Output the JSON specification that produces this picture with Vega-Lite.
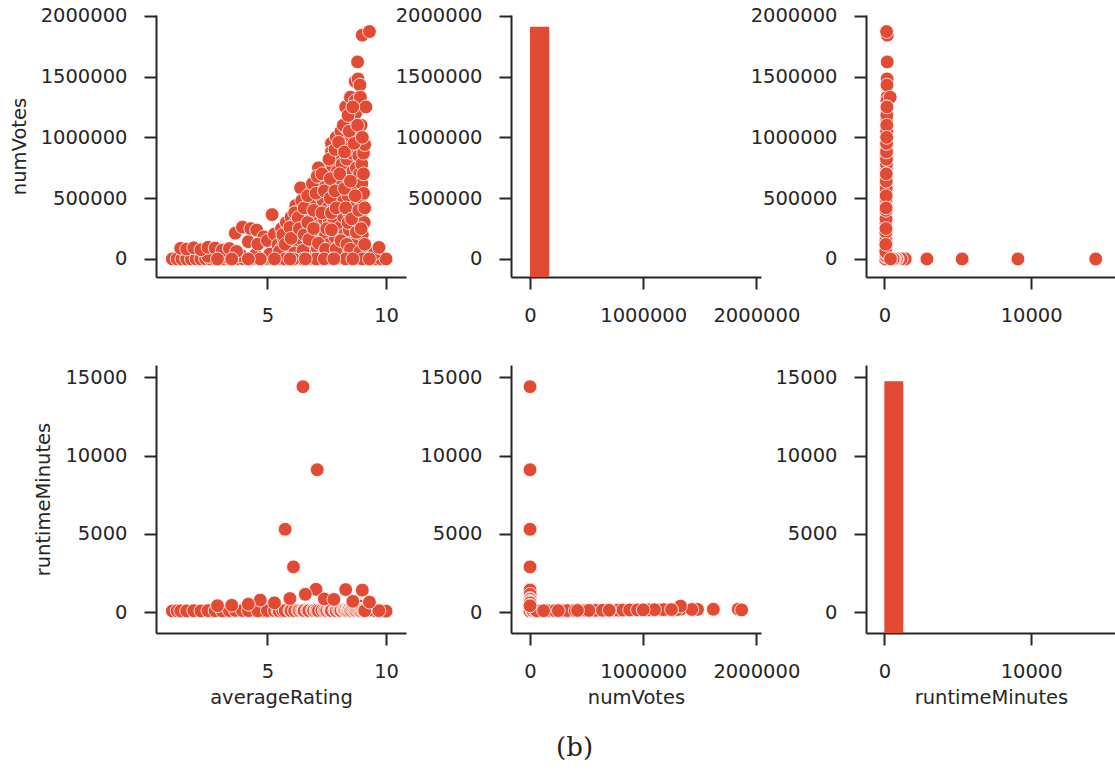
{
  "$schema": "https://vega.github.io/schema/vega-lite/v6.json",
  "padding": {"left": 9, "top": 5, "right": 5, "bottom": 5},
  "background": "white",
  "bounds": "flush",
  "columns": 3,
  "spacing": {"row": 88, "column": 105},
  "resolve": {"scale": {"x": "independent", "y": "independent"}},
  "title": {"text": "(b)", "orient": "bottom", "anchor": "middle", "font": "DejaVu Serif", "fontSize": 26, "fontWeight": "normal", "color": "#222222", "offset": 28, "dx": 12},
  "config": {
    "view": {"stroke": null},
    "font": "DejaVu Sans",
    "axis": {
      "grid": false,
      "domainColor": "#262626", "domainWidth": 2,
      "tickColor": "#262626", "tickWidth": 2, "tickSize": 12,
      "labelFont": "DejaVu Sans", "labelFontSize": 19.5, "labelColor": "#262626", "labelPadding": 17, "labelFlush": false,
      "titleFont": "DejaVu Sans", "titleFontSize": 19.5, "titleFontWeight": "normal", "titleColor": "#262626"
    },
    "axisX": {"titlePadding": 8},
    "axisY": {"titlePadding": 11}
  },
  "datasets": {
    "movies": [
      {"averageRating": 1.0, "numVotes": 120, "runtimeMinutes": 85},
      {"averageRating": 1.2, "numVotes": 300, "runtimeMinutes": 92},
      {"averageRating": 1.4, "numVotes": 80, "runtimeMinutes": 78},
      {"averageRating": 1.6, "numVotes": 450, "runtimeMinutes": 95},
      {"averageRating": 1.8, "numVotes": 200, "runtimeMinutes": 88},
      {"averageRating": 2.0, "numVotes": 600, "runtimeMinutes": 102},
      {"averageRating": 2.2, "numVotes": 150, "runtimeMinutes": 75},
      {"averageRating": 2.4, "numVotes": 900, "runtimeMinutes": 96},
      {"averageRating": 2.6, "numVotes": 350, "runtimeMinutes": 110},
      {"averageRating": 2.8, "numVotes": 700, "runtimeMinutes": 90},
      {"averageRating": 3.0, "numVotes": 1200, "runtimeMinutes": 98},
      {"averageRating": 3.2, "numVotes": 400, "runtimeMinutes": 84},
      {"averageRating": 3.4, "numVotes": 1500, "runtimeMinutes": 105},
      {"averageRating": 3.6, "numVotes": 800, "runtimeMinutes": 92},
      {"averageRating": 3.8, "numVotes": 2000, "runtimeMinutes": 100},
      {"averageRating": 4.0, "numVotes": 1100, "runtimeMinutes": 94},
      {"averageRating": 4.2, "numVotes": 2500, "runtimeMinutes": 108},
      {"averageRating": 4.4, "numVotes": 600, "runtimeMinutes": 86},
      {"averageRating": 4.6, "numVotes": 3000, "runtimeMinutes": 99},
      {"averageRating": 4.8, "numVotes": 1800, "runtimeMinutes": 112},
      {"averageRating": 5.0, "numVotes": 4000, "runtimeMinutes": 95},
      {"averageRating": 5.2, "numVotes": 900, "runtimeMinutes": 103},
      {"averageRating": 5.4, "numVotes": 5000, "runtimeMinutes": 97},
      {"averageRating": 5.6, "numVotes": 2200, "runtimeMinutes": 118},
      {"averageRating": 5.8, "numVotes": 6000, "runtimeMinutes": 101},
      {"averageRating": 6.0, "numVotes": 3500, "runtimeMinutes": 124},
      {"averageRating": 6.2, "numVotes": 8000, "runtimeMinutes": 96},
      {"averageRating": 6.4, "numVotes": 4500, "runtimeMinutes": 115},
      {"averageRating": 6.6, "numVotes": 9000, "runtimeMinutes": 107},
      {"averageRating": 6.8, "numVotes": 5500, "runtimeMinutes": 130},
      {"averageRating": 7.0, "numVotes": 10000, "runtimeMinutes": 99},
      {"averageRating": 7.2, "numVotes": 7000, "runtimeMinutes": 121},
      {"averageRating": 7.4, "numVotes": 12000, "runtimeMinutes": 104},
      {"averageRating": 7.6, "numVotes": 6500, "runtimeMinutes": 140},
      {"averageRating": 7.8, "numVotes": 11000, "runtimeMinutes": 98},
      {"averageRating": 8.0, "numVotes": 8500, "runtimeMinutes": 126},
      {"averageRating": 8.2, "numVotes": 13000, "runtimeMinutes": 109},
      {"averageRating": 8.4, "numVotes": 5000, "runtimeMinutes": 135},
      {"averageRating": 8.6, "numVotes": 9500, "runtimeMinutes": 102},
      {"averageRating": 8.8, "numVotes": 4000, "runtimeMinutes": 117},
      {"averageRating": 9.0, "numVotes": 7500, "runtimeMinutes": 95},
      {"averageRating": 9.2, "numVotes": 3000, "runtimeMinutes": 110},
      {"averageRating": 9.4, "numVotes": 2000, "runtimeMinutes": 88},
      {"averageRating": 9.6, "numVotes": 1000, "runtimeMinutes": 93},
      {"averageRating": 9.8, "numVotes": 500, "runtimeMinutes": 80},
      {"averageRating": 10.0, "numVotes": 200, "runtimeMinutes": 75},
      {"averageRating": 2.5, "numVotes": 22000, "runtimeMinutes": 100},
      {"averageRating": 3.3, "numVotes": 18000, "runtimeMinutes": 95},
      {"averageRating": 3.9, "numVotes": 28000, "runtimeMinutes": 104},
      {"averageRating": 4.5, "numVotes": 35000, "runtimeMinutes": 98},
      {"averageRating": 5.1, "numVotes": 40000, "runtimeMinutes": 112},
      {"averageRating": 5.7, "numVotes": 30000, "runtimeMinutes": 106},
      {"averageRating": 6.3, "numVotes": 45000, "runtimeMinutes": 120},
      {"averageRating": 6.9, "numVotes": 38000, "runtimeMinutes": 100},
      {"averageRating": 7.5, "numVotes": 42000, "runtimeMinutes": 115},
      {"averageRating": 8.1, "numVotes": 36000, "runtimeMinutes": 108},
      {"averageRating": 8.7, "numVotes": 30000, "runtimeMinutes": 96},
      {"averageRating": 9.3, "numVotes": 25000, "runtimeMinutes": 102},
      {"averageRating": 9.5, "numVotes": 45000, "runtimeMinutes": 110},
      {"averageRating": 1.35, "numVotes": 88000, "runtimeMinutes": 95},
      {"averageRating": 1.6, "numVotes": 82000, "runtimeMinutes": 90},
      {"averageRating": 1.9, "numVotes": 92000, "runtimeMinutes": 100},
      {"averageRating": 2.2, "numVotes": 76000, "runtimeMinutes": 88},
      {"averageRating": 2.5, "numVotes": 96000, "runtimeMinutes": 105},
      {"averageRating": 2.8, "numVotes": 90000, "runtimeMinutes": 98},
      {"averageRating": 3.1, "numVotes": 72000, "runtimeMinutes": 92},
      {"averageRating": 3.4, "numVotes": 86000, "runtimeMinutes": 110},
      {"averageRating": 3.7, "numVotes": 62000, "runtimeMinutes": 95},
      {"averageRating": 3.65, "numVotes": 212000, "runtimeMinutes": 120},
      {"averageRating": 3.95, "numVotes": 262000, "runtimeMinutes": 115},
      {"averageRating": 4.3, "numVotes": 250000, "runtimeMinutes": 100},
      {"averageRating": 4.55, "numVotes": 238000, "runtimeMinutes": 108},
      {"averageRating": 4.85, "numVotes": 182000, "runtimeMinutes": 97},
      {"averageRating": 4.2, "numVotes": 142000, "runtimeMinutes": 105},
      {"averageRating": 4.6, "numVotes": 122000, "runtimeMinutes": 93},
      {"averageRating": 5.2, "numVotes": 365000, "runtimeMinutes": 130},
      {"averageRating": 5.0, "numVotes": 152000, "runtimeMinutes": 110},
      {"averageRating": 5.3, "numVotes": 205000, "runtimeMinutes": 102},
      {"averageRating": 5.45, "numVotes": 118000, "runtimeMinutes": 96},
      {"averageRating": 5.6, "numVotes": 250000, "runtimeMinutes": 112},
      {"averageRating": 5.6, "numVotes": 90000, "runtimeMinutes": 98},
      {"averageRating": 5.7, "numVotes": 160000, "runtimeMinutes": 105},
      {"averageRating": 5.8, "numVotes": 300000, "runtimeMinutes": 118},
      {"averageRating": 5.85, "numVotes": 185000, "runtimeMinutes": 101},
      {"averageRating": 5.9, "numVotes": 60000, "runtimeMinutes": 95},
      {"averageRating": 6.0, "numVotes": 345000, "runtimeMinutes": 125},
      {"averageRating": 6.05, "numVotes": 238000, "runtimeMinutes": 109},
      {"averageRating": 6.1, "numVotes": 122000, "runtimeMinutes": 99},
      {"averageRating": 6.2, "numVotes": 440000, "runtimeMinutes": 132},
      {"averageRating": 6.2, "numVotes": 300000, "runtimeMinutes": 114},
      {"averageRating": 6.25, "numVotes": 205000, "runtimeMinutes": 103},
      {"averageRating": 6.3, "numVotes": 82000, "runtimeMinutes": 97},
      {"averageRating": 6.4, "numVotes": 585000, "runtimeMinutes": 128},
      {"averageRating": 6.4, "numVotes": 402000, "runtimeMinutes": 119},
      {"averageRating": 6.45, "numVotes": 310000, "runtimeMinutes": 110},
      {"averageRating": 6.5, "numVotes": 152000, "runtimeMinutes": 100},
      {"averageRating": 6.6, "numVotes": 480000, "runtimeMinutes": 136},
      {"averageRating": 6.6, "numVotes": 362000, "runtimeMinutes": 121},
      {"averageRating": 6.65, "numVotes": 250000, "runtimeMinutes": 108},
      {"averageRating": 6.7, "numVotes": 100000, "runtimeMinutes": 96},
      {"averageRating": 6.8, "numVotes": 540000, "runtimeMinutes": 141},
      {"averageRating": 6.8, "numVotes": 420000, "runtimeMinutes": 126},
      {"averageRating": 6.85, "numVotes": 300000, "runtimeMinutes": 113},
      {"averageRating": 6.9, "numVotes": 180000, "runtimeMinutes": 104},
      {"averageRating": 7.0, "numVotes": 600000, "runtimeMinutes": 138},
      {"averageRating": 7.0, "numVotes": 470000, "runtimeMinutes": 122},
      {"averageRating": 7.05, "numVotes": 350000, "runtimeMinutes": 117},
      {"averageRating": 7.1, "numVotes": 222000, "runtimeMinutes": 106},
      {"averageRating": 7.1, "numVotes": 90000, "runtimeMinutes": 98},
      {"averageRating": 7.15, "numVotes": 750000, "runtimeMinutes": 145},
      {"averageRating": 7.2, "numVotes": 520000, "runtimeMinutes": 131},
      {"averageRating": 7.2, "numVotes": 400000, "runtimeMinutes": 118},
      {"averageRating": 7.25, "numVotes": 280000, "runtimeMinutes": 109},
      {"averageRating": 7.3, "numVotes": 152000, "runtimeMinutes": 101},
      {"averageRating": 7.35, "numVotes": 620000, "runtimeMinutes": 133},
      {"averageRating": 7.35, "numVotes": 480000, "runtimeMinutes": 124},
      {"averageRating": 7.4, "numVotes": 330000, "runtimeMinutes": 112},
      {"averageRating": 7.45, "numVotes": 200000, "runtimeMinutes": 103},
      {"averageRating": 7.5, "numVotes": 700000, "runtimeMinutes": 140},
      {"averageRating": 7.55, "numVotes": 560000, "runtimeMinutes": 128},
      {"averageRating": 7.55, "numVotes": 420000, "runtimeMinutes": 116},
      {"averageRating": 7.6, "numVotes": 300000, "runtimeMinutes": 107},
      {"averageRating": 7.6, "numVotes": 120000, "runtimeMinutes": 99},
      {"averageRating": 7.7, "numVotes": 950000, "runtimeMinutes": 152},
      {"averageRating": 7.7, "numVotes": 880000, "runtimeMinutes": 143},
      {"averageRating": 7.75, "numVotes": 760000, "runtimeMinutes": 137},
      {"averageRating": 7.75, "numVotes": 600000, "runtimeMinutes": 125},
      {"averageRating": 7.8, "numVotes": 450000, "runtimeMinutes": 118},
      {"averageRating": 7.8, "numVotes": 320000, "runtimeMinutes": 110},
      {"averageRating": 7.85, "numVotes": 180000, "runtimeMinutes": 102},
      {"averageRating": 7.9, "numVotes": 1000000, "runtimeMinutes": 158},
      {"averageRating": 7.95, "numVotes": 850000, "runtimeMinutes": 147},
      {"averageRating": 7.95, "numVotes": 720000, "runtimeMinutes": 134},
      {"averageRating": 8.0, "numVotes": 540000, "runtimeMinutes": 122},
      {"averageRating": 8.0, "numVotes": 400000, "runtimeMinutes": 114},
      {"averageRating": 8.05, "numVotes": 260000, "runtimeMinutes": 106},
      {"averageRating": 8.05, "numVotes": 110000, "runtimeMinutes": 98},
      {"averageRating": 8.1, "numVotes": 1050000, "runtimeMinutes": 162},
      {"averageRating": 8.1, "numVotes": 920000, "runtimeMinutes": 149},
      {"averageRating": 8.15, "numVotes": 780000, "runtimeMinutes": 138},
      {"averageRating": 8.15, "numVotes": 640000, "runtimeMinutes": 127},
      {"averageRating": 8.2, "numVotes": 500000, "runtimeMinutes": 119},
      {"averageRating": 8.2, "numVotes": 350000, "runtimeMinutes": 111},
      {"averageRating": 8.25, "numVotes": 200000, "runtimeMinutes": 103},
      {"averageRating": 8.3, "numVotes": 1250000, "runtimeMinutes": 175},
      {"averageRating": 8.3, "numVotes": 1080000, "runtimeMinutes": 160},
      {"averageRating": 8.35, "numVotes": 960000, "runtimeMinutes": 151},
      {"averageRating": 8.35, "numVotes": 820000, "runtimeMinutes": 140},
      {"averageRating": 8.4, "numVotes": 680000, "runtimeMinutes": 129},
      {"averageRating": 8.4, "numVotes": 520000, "runtimeMinutes": 121},
      {"averageRating": 8.45, "numVotes": 380000, "runtimeMinutes": 112},
      {"averageRating": 8.45, "numVotes": 240000, "runtimeMinutes": 105},
      {"averageRating": 8.5, "numVotes": 1330000, "runtimeMinutes": 182},
      {"averageRating": 8.5, "numVotes": 1150000, "runtimeMinutes": 168},
      {"averageRating": 8.55, "numVotes": 1000000, "runtimeMinutes": 155},
      {"averageRating": 8.55, "numVotes": 870000, "runtimeMinutes": 146},
      {"averageRating": 8.6, "numVotes": 720000, "runtimeMinutes": 135},
      {"averageRating": 8.6, "numVotes": 560000, "runtimeMinutes": 124},
      {"averageRating": 8.6, "numVotes": 420000, "runtimeMinutes": 116},
      {"averageRating": 8.65, "numVotes": 280000, "runtimeMinutes": 108},
      {"averageRating": 8.65, "numVotes": 140000, "runtimeMinutes": 100},
      {"averageRating": 8.7, "numVotes": 1460000, "runtimeMinutes": 190},
      {"averageRating": 8.7, "numVotes": 1300000, "runtimeMinutes": 178},
      {"averageRating": 8.72, "numVotes": 1200000, "runtimeMinutes": 166},
      {"averageRating": 8.72, "numVotes": 1050000, "runtimeMinutes": 157},
      {"averageRating": 8.75, "numVotes": 900000, "runtimeMinutes": 148},
      {"averageRating": 8.75, "numVotes": 750000, "runtimeMinutes": 138},
      {"averageRating": 8.78, "numVotes": 600000, "runtimeMinutes": 128},
      {"averageRating": 8.78, "numVotes": 450000, "runtimeMinutes": 118},
      {"averageRating": 8.8, "numVotes": 300000, "runtimeMinutes": 110},
      {"averageRating": 8.8, "numVotes": 160000, "runtimeMinutes": 101},
      {"averageRating": 8.8, "numVotes": 1620000, "runtimeMinutes": 195},
      {"averageRating": 8.82, "numVotes": 1480000, "runtimeMinutes": 186},
      {"averageRating": 8.85, "numVotes": 980000, "runtimeMinutes": 152},
      {"averageRating": 8.85, "numVotes": 850000, "runtimeMinutes": 143},
      {"averageRating": 8.88, "numVotes": 700000, "runtimeMinutes": 134},
      {"averageRating": 8.88, "numVotes": 500000, "runtimeMinutes": 122},
      {"averageRating": 8.9, "numVotes": 350000, "runtimeMinutes": 113},
      {"averageRating": 8.9, "numVotes": 1430000, "runtimeMinutes": 180},
      {"averageRating": 8.92, "numVotes": 1330000, "runtimeMinutes": 400},
      {"averageRating": 8.95, "numVotes": 1100000, "runtimeMinutes": 170},
      {"averageRating": 8.95, "numVotes": 950000, "runtimeMinutes": 150},
      {"averageRating": 8.98, "numVotes": 780000, "runtimeMinutes": 139},
      {"averageRating": 8.98, "numVotes": 620000, "runtimeMinutes": 127},
      {"averageRating": 9.0, "numVotes": 400000, "runtimeMinutes": 117},
      {"averageRating": 9.0, "numVotes": 200000, "runtimeMinutes": 106},
      {"averageRating": 9.0, "numVotes": 1840000, "runtimeMinutes": 201},
      {"averageRating": 9.05, "numVotes": 870000, "runtimeMinutes": 146},
      {"averageRating": 9.05, "numVotes": 540000, "runtimeMinutes": 125},
      {"averageRating": 9.08, "numVotes": 300000, "runtimeMinutes": 112},
      {"averageRating": 9.15, "numVotes": 1250000, "runtimeMinutes": 172},
      {"averageRating": 9.1, "numVotes": 940000, "runtimeMinutes": 150},
      {"averageRating": 9.3, "numVotes": 1870000, "runtimeMinutes": 152},
      {"averageRating": 9.7, "numVotes": 95000, "runtimeMinutes": 108},
      {"averageRating": 5.5, "numVotes": 60000, "runtimeMinutes": 100},
      {"averageRating": 5.65, "numVotes": 200000, "runtimeMinutes": 108},
      {"averageRating": 5.75, "numVotes": 120000, "runtimeMinutes": 102},
      {"averageRating": 5.95, "numVotes": 260000, "runtimeMinutes": 115},
      {"averageRating": 6.0, "numVotes": 170000, "runtimeMinutes": 104},
      {"averageRating": 6.15, "numVotes": 380000, "runtimeMinutes": 126},
      {"averageRating": 6.15, "numVotes": 50000, "runtimeMinutes": 96},
      {"averageRating": 6.3, "numVotes": 340000, "runtimeMinutes": 118},
      {"averageRating": 6.35, "numVotes": 250000, "runtimeMinutes": 110},
      {"averageRating": 6.45, "numVotes": 480000, "runtimeMinutes": 125},
      {"averageRating": 6.5, "numVotes": 70000, "runtimeMinutes": 99},
      {"averageRating": 6.55, "numVotes": 420000, "runtimeMinutes": 123},
      {"averageRating": 6.55, "numVotes": 200000, "runtimeMinutes": 106},
      {"averageRating": 6.7, "numVotes": 520000, "runtimeMinutes": 131},
      {"averageRating": 6.7, "numVotes": 300000, "runtimeMinutes": 112},
      {"averageRating": 6.75, "numVotes": 160000, "runtimeMinutes": 103},
      {"averageRating": 6.9, "numVotes": 620000, "runtimeMinutes": 137},
      {"averageRating": 6.95, "numVotes": 400000, "runtimeMinutes": 120},
      {"averageRating": 6.95, "numVotes": 250000, "runtimeMinutes": 109},
      {"averageRating": 7.05, "numVotes": 540000, "runtimeMinutes": 129},
      {"averageRating": 7.1, "numVotes": 680000, "runtimeMinutes": 142},
      {"averageRating": 7.15, "numVotes": 130000, "runtimeMinutes": 100},
      {"averageRating": 7.3, "numVotes": 700000, "runtimeMinutes": 140},
      {"averageRating": 7.3, "numVotes": 380000, "runtimeMinutes": 115},
      {"averageRating": 7.4, "numVotes": 560000, "runtimeMinutes": 127},
      {"averageRating": 7.45, "numVotes": 80000, "runtimeMinutes": 97},
      {"averageRating": 7.5, "numVotes": 250000, "runtimeMinutes": 108},
      {"averageRating": 7.6, "numVotes": 820000, "runtimeMinutes": 146},
      {"averageRating": 7.65, "numVotes": 660000, "runtimeMinutes": 133},
      {"averageRating": 7.65, "numVotes": 500000, "runtimeMinutes": 121},
      {"averageRating": 7.7, "numVotes": 380000, "runtimeMinutes": 113},
      {"averageRating": 7.7, "numVotes": 240000, "runtimeMinutes": 105},
      {"averageRating": 7.85, "numVotes": 900000, "runtimeMinutes": 150},
      {"averageRating": 7.85, "numVotes": 560000, "runtimeMinutes": 124},
      {"averageRating": 7.9, "numVotes": 420000, "runtimeMinutes": 116},
      {"averageRating": 7.9, "numVotes": 80000, "runtimeMinutes": 97},
      {"averageRating": 8.0, "numVotes": 960000, "runtimeMinutes": 155},
      {"averageRating": 8.05, "numVotes": 700000, "runtimeMinutes": 131},
      {"averageRating": 8.1, "numVotes": 150000, "runtimeMinutes": 101},
      {"averageRating": 8.2, "numVotes": 1100000, "runtimeMinutes": 165},
      {"averageRating": 8.25, "numVotes": 880000, "runtimeMinutes": 148},
      {"averageRating": 8.25, "numVotes": 580000, "runtimeMinutes": 125},
      {"averageRating": 8.3, "numVotes": 420000, "runtimeMinutes": 114},
      {"averageRating": 8.35, "numVotes": 120000, "runtimeMinutes": 99},
      {"averageRating": 8.4, "numVotes": 1180000, "runtimeMinutes": 170},
      {"averageRating": 8.4, "numVotes": 300000, "runtimeMinutes": 109},
      {"averageRating": 8.45, "numVotes": 1050000, "runtimeMinutes": 160},
      {"averageRating": 8.5, "numVotes": 640000, "runtimeMinutes": 130},
      {"averageRating": 8.5, "numVotes": 80000, "runtimeMinutes": 97},
      {"averageRating": 8.55, "numVotes": 330000, "runtimeMinutes": 111},
      {"averageRating": 8.6, "numVotes": 1250000, "runtimeMinutes": 176},
      {"averageRating": 8.65, "numVotes": 950000, "runtimeMinutes": 152},
      {"averageRating": 8.7, "numVotes": 520000, "runtimeMinutes": 123},
      {"averageRating": 8.75, "numVotes": 220000, "runtimeMinutes": 104},
      {"averageRating": 8.8, "numVotes": 1100000, "runtimeMinutes": 165},
      {"averageRating": 8.85, "numVotes": 400000, "runtimeMinutes": 115},
      {"averageRating": 8.9, "numVotes": 60000, "runtimeMinutes": 98},
      {"averageRating": 8.95, "numVotes": 250000, "runtimeMinutes": 108},
      {"averageRating": 9.0, "numVotes": 1000000, "runtimeMinutes": 158},
      {"averageRating": 9.05, "numVotes": 700000, "runtimeMinutes": 133},
      {"averageRating": 9.1, "numVotes": 420000, "runtimeMinutes": 116},
      {"averageRating": 9.1, "numVotes": 120000, "runtimeMinutes": 100},
      {"averageRating": 6.5, "numVotes": 120, "runtimeMinutes": 14400},
      {"averageRating": 7.1, "numVotes": 60, "runtimeMinutes": 9100},
      {"averageRating": 5.75, "numVotes": 40, "runtimeMinutes": 5300},
      {"averageRating": 6.1, "numVotes": 85, "runtimeMinutes": 2900},
      {"averageRating": 7.05, "numVotes": 600, "runtimeMinutes": 1470},
      {"averageRating": 8.3, "numVotes": 350, "runtimeMinutes": 1450},
      {"averageRating": 9.0, "numVotes": 180, "runtimeMinutes": 1420},
      {"averageRating": 6.6, "numVotes": 900, "runtimeMinutes": 1150},
      {"averageRating": 5.95, "numVotes": 250, "runtimeMinutes": 880},
      {"averageRating": 4.7, "numVotes": 300, "runtimeMinutes": 780},
      {"averageRating": 7.4, "numVotes": 1500, "runtimeMinutes": 850},
      {"averageRating": 7.8, "numVotes": 2000, "runtimeMinutes": 820},
      {"averageRating": 8.6, "numVotes": 800, "runtimeMinutes": 700},
      {"averageRating": 9.3, "numVotes": 400, "runtimeMinutes": 650},
      {"averageRating": 4.2, "numVotes": 700, "runtimeMinutes": 520},
      {"averageRating": 5.3, "numVotes": 1100, "runtimeMinutes": 600},
      {"averageRating": 3.5, "numVotes": 500, "runtimeMinutes": 450},
      {"averageRating": 2.9, "numVotes": 300, "runtimeMinutes": 420}
    ],
    "votesHist": [{"binStart": 0, "binEnd": 170000, "barTop": 1910000}],
    "runtimeHist": [{"binStart": 0, "binEnd": 1290, "barTop": 14750}]
  },
  "concat": [
    {
      "width": 250, "height": 262,
      "data": {"name": "movies"},
      "mark": {"type": "circle", "size": 190, "opacity": 1, "color": "#E24A33", "stroke": "white", "strokeWidth": 0.8},
      "encoding": {
        "x": {"field": "averageRating", "type": "quantitative", "scale": {"domain": [0.31, 10.84], "nice": false, "zero": false}, "axis": {"values": [5, 10], "title": null}},
        "y": {"field": "numVotes", "type": "quantitative", "scale": {"domain": [-148000, 2006000], "nice": false, "zero": false}, "axis": {"values": [0, 500000, 1000000, 1500000, 2000000], "format": "d", "title": "numVotes"}}
      }
    },
    {
      "width": 250, "height": 262,
      "data": {"name": "votesHist"},
      "mark": {"type": "bar", "color": "#E24A33"},
      "encoding": {
        "x": {"field": "binStart", "type": "quantitative", "scale": {"domain": [-168000, 2041000], "nice": false, "zero": false}, "axis": {"values": [0, 1000000, 2000000], "format": "d", "title": null}},
        "x2": {"field": "binEnd"},
        "y": {"field": "barTop", "type": "quantitative", "scale": {"domain": [-148000, 2006000], "nice": false, "zero": false}, "axis": {"values": [0, 500000, 1000000, 1500000, 2000000], "format": "d", "title": null}},
        "y2": {"datum": -148000}
      }
    },
    {
      "width": 250, "height": 262,
      "data": {"name": "movies"},
      "mark": {"type": "circle", "size": 190, "opacity": 1, "color": "#E24A33", "stroke": "white", "strokeWidth": 0.8},
      "encoding": {
        "x": {"field": "runtimeMinutes", "type": "quantitative", "scale": {"domain": [-1250, 15780], "nice": false, "zero": false}, "axis": {"values": [0, 10000], "format": "d", "title": null}},
        "y": {"field": "numVotes", "type": "quantitative", "scale": {"domain": [-148000, 2006000], "nice": false, "zero": false}, "axis": {"values": [0, 500000, 1000000, 1500000, 2000000], "format": "d", "title": null}}
      }
    },
    {
      "width": 250, "height": 268,
      "data": {"name": "movies"},
      "mark": {"type": "circle", "size": 190, "opacity": 1, "color": "#E24A33", "stroke": "white", "strokeWidth": 0.8},
      "encoding": {
        "x": {"field": "averageRating", "type": "quantitative", "scale": {"domain": [0.31, 10.84], "nice": false, "zero": false}, "axis": {"values": [5, 10], "title": "averageRating"}},
        "y": {"field": "runtimeMinutes", "type": "quantitative", "scale": {"domain": [-1320, 15785], "nice": false, "zero": false}, "axis": {"values": [0, 5000, 10000, 15000], "format": "d", "title": "runtimeMinutes"}}
      }
    },
    {
      "width": 250, "height": 268,
      "data": {"name": "movies"},
      "mark": {"type": "circle", "size": 190, "opacity": 1, "color": "#E24A33", "stroke": "white", "strokeWidth": 0.8},
      "encoding": {
        "x": {"field": "numVotes", "type": "quantitative", "scale": {"domain": [-168000, 2041000], "nice": false, "zero": false}, "axis": {"values": [0, 1000000, 2000000], "format": "d", "title": "numVotes"}},
        "y": {"field": "runtimeMinutes", "type": "quantitative", "scale": {"domain": [-1320, 15785], "nice": false, "zero": false}, "axis": {"values": [0, 5000, 10000, 15000], "format": "d", "title": null}}
      }
    },
    {
      "width": 250, "height": 268,
      "data": {"name": "runtimeHist"},
      "mark": {"type": "bar", "color": "#E24A33"},
      "encoding": {
        "x": {"field": "binStart", "type": "quantitative", "scale": {"domain": [-1250, 15780], "nice": false, "zero": false}, "axis": {"values": [0, 10000], "format": "d", "title": "runtimeMinutes"}},
        "x2": {"field": "binEnd"},
        "y": {"field": "barTop", "type": "quantitative", "scale": {"domain": [-1320, 15785], "nice": false, "zero": false}, "axis": {"values": [0, 5000, 10000, 15000], "format": "d", "title": null}},
        "y2": {"datum": -1320}
      }
    }
  ]
}
